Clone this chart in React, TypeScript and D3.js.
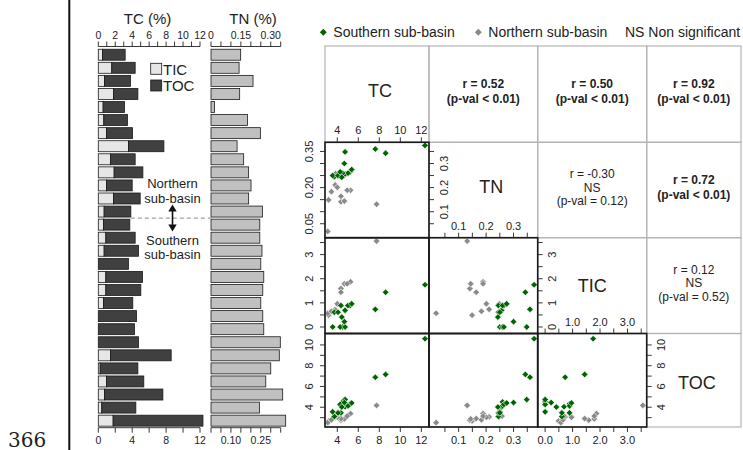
import * as d3 from 'd3'

// samples listed top to bottom; first 13 are from the northern sub-basin
const SAMPLE_TIC = [0.49, 1.59, 0.73, 1.79, 0.57, 0.65, 0.96, 3.56, 1.44, 1.87, 0.96, 1.79, 0.69,
  0.61, 0.89, 0.69, 0.0, 0.89, 0.89, 0.61, 0.0, 0.0, 0.0, 1.44, 0.22, 0.96, 0.73, 0.41, 1.75]
const SAMPLE_TOC = [2.68, 2.76, 3.07, 2.88, 2.52, 2.79, 3.08, 4.18, 2.91, 3.39, 3.04, 3.15, 3.15,
  3.11, 3.46, 4.05, 3.56, 4.33, 4.13, 3.46, 4.51, 4.27, 4.74, 7.16, 4.45, 4.41, 6.89, 4.02, 10.6]
const SAMPLE_TN = [0.149, 0.141, 0.211, 0.144, 0.018, 0.183, 0.248, 0.131, 0.164, 0.189, 0.201, 0.189, 0.258,
  0.245, 0.245, 0.256, 0.25, 0.265, 0.26, 0.25, 0.26, 0.265, 0.348, 0.343, 0.30, 0.275, 0.36, 0.243, 0.375]
const SAMPLE_BASIN = ['N', 'N', 'N', 'N', 'N', 'N', 'N', 'N', 'N', 'N', 'N', 'N', 'N',
  'S', 'S', 'S', 'S', 'S', 'S', 'S', 'S', 'S', 'S', 'S', 'S', 'S', 'S', 'S', 'S']

const VARS = ['TC', 'TN', 'TIC', 'TOC']

// upper triangle: correlation text per cell
const CORR_CELLS = [
  { row: 0, col: 1, lines: ['r = 0.52', '(p-val < 0.01)'], bold: true },
  { row: 0, col: 2, lines: ['r = 0.50', '(p-val < 0.01)'], bold: true },
  { row: 0, col: 3, lines: ['r = 0.92', '(p-val < 0.01)'], bold: true },
  { row: 1, col: 2, lines: ['r = -0.30', 'NS', '(p-val = 0.12)'], bold: false },
  { row: 1, col: 3, lines: ['r = 0.72', '(p-val < 0.01)'], bold: true },
  { row: 2, col: 3, lines: ['r = 0.12', 'NS', '(p-val = 0.52)'], bold: false },
]

const TC_TOP_TICKS = d3.range(0, 13, 1)
const TC_TOP_LABELS = [0, 2, 4, 6, 8, 10, 12]
const TC_BOTTOM_TICKS = d3.range(0, 13, 2)
const TC_BOTTOM_LABELS = [0, 4, 8, 12]
const TN_BAR_TICKS = d3.range(0, 0.36, 0.05)
const TN_TOP_LABELS = ['0', '0.15', '0.30']
const TN_BOTTOM_LABELS = ['0.10', '0.25']

const GREEN = '#006400'
const GREY = '#8a8a8a'
const FONT = 'Liberation Sans, Arial, sans-serif'

// scatter-matrix layout
const COLS = [325, 429, 537.7, 646.7, 741]
const ROWS = [46, 142.3, 237.7, 333.5, 427]
const DOMAINS: Record<string, [number, number]> = {
  TC: [2.83, 12.73],
  TN: [-0.008, 0.388],
  TIC: [-0.27, 3.7],
  TOC: [2.1, 11.1],
}

const samples = SAMPLE_TIC.map((tic, i) => ({
  TIC: tic,
  TOC: SAMPLE_TOC[i],
  TC: tic + SAMPLE_TOC[i],
  TN: SAMPLE_TN[i],
  basin: SAMPLE_BASIN[i],
}))

const xCol = (j: number) => d3.scaleLinear(DOMAINS[VARS[j]], [COLS[j], COLS[j + 1]])
const yRow = (i: number) => d3.scaleLinear(DOMAINS[VARS[i]], [ROWS[i + 1], ROWS[i]])

const diamond = d3.symbol(d3.symbolSquare, 22)()

type AxisSpec = {
  orient: 'top' | 'bottom' | 'left' | 'right'
  idx: number // column (x axes) or row (y axes)
  at: number
  ticks: number[]
  labels: number[]
  fmt: (v: number) => string
}

const f0 = d3.format('d')
const f1 = d3.format('.1f')
const f2 = d3.format('.2f')

const AXES: AxisSpec[] = [
  { orient: 'top', idx: 0, at: ROWS[1], ticks: [4, 6, 8, 10, 12], labels: [4, 6, 8, 10, 12], fmt: f0 },
  { orient: 'bottom', idx: 0, at: ROWS[4], ticks: [4, 6, 8, 10, 12], labels: [4, 6, 8, 10, 12], fmt: f0 },
  { orient: 'top', idx: 1, at: ROWS[2], ticks: d3.range(0.05, 0.36, 0.05), labels: [0.1, 0.2, 0.3], fmt: f1 },
  { orient: 'bottom', idx: 1, at: ROWS[4], ticks: d3.range(0.05, 0.36, 0.05), labels: [0.1, 0.2, 0.3], fmt: f1 },
  { orient: 'top', idx: 2, at: ROWS[3], ticks: d3.range(0, 3.6, 0.5), labels: [1, 2, 3], fmt: f1 },
  { orient: 'bottom', idx: 2, at: ROWS[4], ticks: d3.range(0, 3.6, 0.5), labels: [0, 1, 2, 3], fmt: f1 },
  { orient: 'left', idx: 1, at: COLS[0], ticks: d3.range(0.05, 0.36, 0.05), labels: [0.05, 0.2, 0.35], fmt: f2 },
  { orient: 'right', idx: 1, at: COLS[1], ticks: d3.range(0.05, 0.36, 0.05), labels: [0.1, 0.2, 0.3], fmt: f1 },
  { orient: 'left', idx: 2, at: COLS[0], ticks: d3.range(0, 3.6, 0.5), labels: [0, 1, 2, 3], fmt: f0 },
  { orient: 'right', idx: 2, at: COLS[2], ticks: d3.range(0, 3.6, 0.5), labels: [0, 1, 2, 3], fmt: f0 },
  { orient: 'left', idx: 3, at: COLS[0], ticks: d3.range(3, 11, 1), labels: [4, 6, 8, 10], fmt: f0 },
  { orient: 'right', idx: 3, at: COLS[3], ticks: d3.range(3, 11, 1), labels: [4, 6, 8, 10], fmt: f0 },
]

function MatrixAxis({ spec }: { spec: AxisSpec }) {
  const { orient, idx, at, ticks, labels, fmt } = spec
  const horiz = orient === 'top' || orient === 'bottom'
  const s = horiz ? xCol(idx) : yRow(idx)
  const t = 5
  return (
    <g stroke="#222" fill="#222">
      {ticks.map((v, k) => horiz
        ? <line key={k} x1={s(v)} x2={s(v)} y1={at} y2={orient === 'top' ? at - t : at + t} strokeWidth={0.9} />
        : <line key={k} y1={s(v)} y2={s(v)} x1={at} x2={orient === 'left' ? at - t : at + t} strokeWidth={0.9} />)}
      {labels.map((v, k) => horiz
        ? <text key={'l' + k} x={s(v)} y={orient === 'top' ? at - 8 : at + 17} textAnchor="middle"
            fontSize={11} stroke="none">{fmt(v)}</text>
        : <text key={'l' + k} transform={`translate(${orient === 'left' ? at - 12.5 : at + 18.5},${s(v)}) rotate(-90)`}
            textAnchor="middle" fontSize={11} stroke="none">{fmt(v)}</text>)}
    </g>
  )
}

function BarPanel() {
  const y = d3.scaleBand<number>(d3.range(samples.length), [48.2, 427.2]).paddingInner(0.16).paddingOuter(0.08)
  const xTC = d3.scaleLinear([0, 12], [98.3, 200])
  const xTN = d3.scaleLinear([0, 0.35], [211, 280.7])
  const bw = y.bandwidth()
  const topAxisY = 46.5
  const botAxisY = 427.7
  const splitY = (y(12)! + bw + y(13)!) / 2
  const arrowX = 172.5
  return (
    <g fontFamily={FONT}>
      {samples.map((d, i) => (
        <g key={i} stroke="#1a1a1a" strokeWidth={0.8}>
          <rect x={xTC(0)} y={y(i)} width={xTC(d.TIC) - xTC(0)} height={bw} fill="#e6e6e6" />
          <rect x={xTC(d.TIC)} y={y(i)} width={xTC(d.TC) - xTC(d.TIC)} height={bw} fill="#404040" />
          <rect x={xTN(0)} y={y(i)} width={xTN(d.TN) - xTN(0)} height={bw} fill="#c0c0c0" />
        </g>
      ))}

      {/* axes above and below the bars */}
      <g stroke="#222" strokeWidth={0.9}>
        <line x1={xTC(0)} x2={xTC(12)} y1={topAxisY} y2={topAxisY} />
        {TC_TOP_TICKS.map(v => <line key={v} x1={xTC(v)} x2={xTC(v)} y1={topAxisY} y2={topAxisY - 5} />)}
        <line x1={xTN(0)} x2={xTN(0.35)} y1={topAxisY} y2={topAxisY} />
        {TN_BAR_TICKS.map((v, k) => <line key={k} x1={xTN(v)} x2={xTN(v)} y1={topAxisY} y2={topAxisY - 5} />)}
        <line x1={xTC(0)} x2={xTC(12)} y1={botAxisY} y2={botAxisY} />
        {TC_BOTTOM_TICKS.map(v => <line key={v} x1={xTC(v)} x2={xTC(v)} y1={botAxisY} y2={botAxisY + 5} />)}
        <line x1={xTN(0)} x2={xTN(0.35)} y1={botAxisY} y2={botAxisY} />
        {TN_BAR_TICKS.map((v, k) => <line key={k} x1={xTN(v)} x2={xTN(v)} y1={botAxisY} y2={botAxisY + 5} />)}
      </g>
      <g fontSize={10.5} fill="#222" textAnchor="middle">
        {TC_TOP_LABELS.map(v => <text key={v} x={xTC(v)} y={38.5}>{v}</text>)}
        {TN_TOP_LABELS.map(v => <text key={v} x={xTN(+v)} y={38.5}>{v}</text>)}
        {TC_BOTTOM_LABELS.map(v => <text key={v} x={xTC(v)} y={443.5}>{v}</text>)}
        {TN_BOTTOM_LABELS.map(v => <text key={v} x={xTN(+v)} y={443.5}>{v}</text>)}
      </g>
      <text x={147.5} y={24} fontSize={15} textAnchor="middle" fill="#222">TC (%)</text>
      <text x={253} y={24} fontSize={15} textAnchor="middle" fill="#222">TN (%)</text>

      {/* legend */}
      <rect x={150.7} y={63.3} width={11} height={11} fill="#e6e6e6" stroke="#1a1a1a" strokeWidth={0.8} />
      <text x={163} y={74.5} fontSize={15} fill="#222">TIC</text>
      <rect x={150.7} y={80} width={11} height={11} fill="#404040" stroke="#1a1a1a" strokeWidth={0.8} />
      <text x={163} y={91} fontSize={15} fill="#222">TOC</text>

      {/* basin split */}
      <line x1={xTC(samples[12].TC)} x2={xTN(0)} y1={splitY} y2={splitY} stroke="#888" strokeWidth={1} strokeDasharray="4,3" />
      <g fill="#111" stroke="none">
        <line x1={arrowX} x2={arrowX} y1={splitY - 9} y2={splitY + 9} stroke="#111" strokeWidth={1.6} />
        <path d={`M${arrowX},${splitY - 13.5}L${arrowX - 4.2},${splitY - 6.5}L${arrowX + 4.2},${splitY - 6.5}Z`} />
        <path d={`M${arrowX},${splitY + 13.5}L${arrowX - 4.2},${splitY + 6.5}L${arrowX + 4.2},${splitY + 6.5}Z`} />
      </g>
      <g fontSize={13} fill="#222" textAnchor="middle">
        <text x={arrowX} y={splitY - 30.2}>Northern</text>
        <text x={arrowX} y={splitY - 15.4}>sub-basin</text>
        <text x={arrowX} y={splitY + 26.6}>Southern</text>
        <text x={arrowX} y={splitY + 41.4}>sub-basin</text>
      </g>
    </g>
  )
}

function ScatterMatrix() {
  const cells: { i: number; j: number }[] = []
  VARS.forEach((_, i) => VARS.forEach((__, j) => cells.push({ i, j })))
  const ordered = [...samples.filter(d => d.basin === 'N'), ...samples.filter(d => d.basin === 'S')]
  return (
    <g fontFamily={FONT}>
      {/* legend */}
      <path d={diamond} transform="translate(323.3,32.3) rotate(45) scale(1.05)" fill={GREEN} />
      <text x={333.3} y={37.3} fontSize={14} fill="#222">Southern sub-basin</text>
      <path d={diamond} transform="translate(478.3,32.3) rotate(45) scale(1.05)" fill={GREY} />
      <text x={488.3} y={37.3} fontSize={14} fill="#222">Northern sub-basin</text>
      <text x={625} y={37.3} fontSize={14} fill="#222">NS Non significant</text>

      {/* grey frames for all cells */}
      {cells.map(({ i, j }) => (
        <rect key={`g${i}${j}`} x={COLS[j]} y={ROWS[i]} width={COLS[j + 1] - COLS[j]} height={ROWS[i + 1] - ROWS[i]}
          fill="none" stroke="#b4b4b4" strokeWidth={1.2} />
      ))}

      {/* correlation text */}
      {CORR_CELLS.map((c, k) => {
        const cx = (COLS[c.col] + COLS[c.col + 1]) / 2
        const cy = (ROWS[c.row] + ROWS[c.row + 1]) / 2 - 2.5
        const step = c.bold ? 15 : 13.5
        const off = (c.lines.length - 1) / 2
        return (
          <g key={k} fontSize={12} fontWeight={c.bold ? 'bold' : 'normal'} fill="#222" textAnchor="middle">
            {c.lines.map((s, n) => (
              <text key={n} x={cx} y={cy + (n - off) * step} dominantBaseline="central">{s}</text>
            ))}
          </g>
        )
      })}

      {/* diagonal names */}
      {VARS.map((v, i) => {
        const cx = (COLS[i] + COLS[i + 1]) / 2
        const cy = (ROWS[i] + ROWS[i + 1]) / 2
        const dx = [3, 8, 0, 3][i]
        const dy = [-3, -3, 0, 3][i]
        return <text key={v} x={cx + dx} y={cy + dy} fontSize={18} textAnchor="middle" dominantBaseline="central" fill="#222">{v}</text>
      })}

      {/* scatter points */}
      {cells.filter(({ i, j }) => i > j).map(({ i, j }) => {
        const x = xCol(j)
        const y = yRow(i)
        return (
          <g key={`p${i}${j}`}>
            {ordered.map((d, k) => (
              <path key={k} d={diamond}
                transform={`translate(${x((d as any)[VARS[j]])},${y((d as any)[VARS[i]])}) rotate(45)`}
                fill={d.basin === 'S' ? GREEN : GREY} stroke="#fff" strokeWidth={0.6} />
            ))}
          </g>
        )
      })}

      {/* black frames for scatter cells */}
      {cells.filter(({ i, j }) => i > j).map(({ i, j }) => (
        <rect key={`b${i}${j}`} x={COLS[j]} y={ROWS[i]} width={COLS[j + 1] - COLS[j]} height={ROWS[i + 1] - ROWS[i]}
          fill="none" stroke="#1a1a1a" strokeWidth={1.6} />
      ))}

      {AXES.map((a, k) => <MatrixAxis key={k} spec={a} />)}
    </g>
  )
}

export default function App() {
  return (
    <svg width={743} height={450} viewBox="0 0 743 450"
      style={{ position: 'absolute', left: 0, top: 0, background: '#fff' }}>
      <rect width={743} height={450} fill="#fff" />
      <line x1={69.3} x2={69.3} y1={0} y2={450} stroke="#111" strokeWidth={2} />
      <text x={8} y={446.5} fontFamily="DejaVu Serif, serif" fontSize={20} fill="#222">366</text>
      <BarPanel />
      <ScatterMatrix />
    </svg>
  )
}
